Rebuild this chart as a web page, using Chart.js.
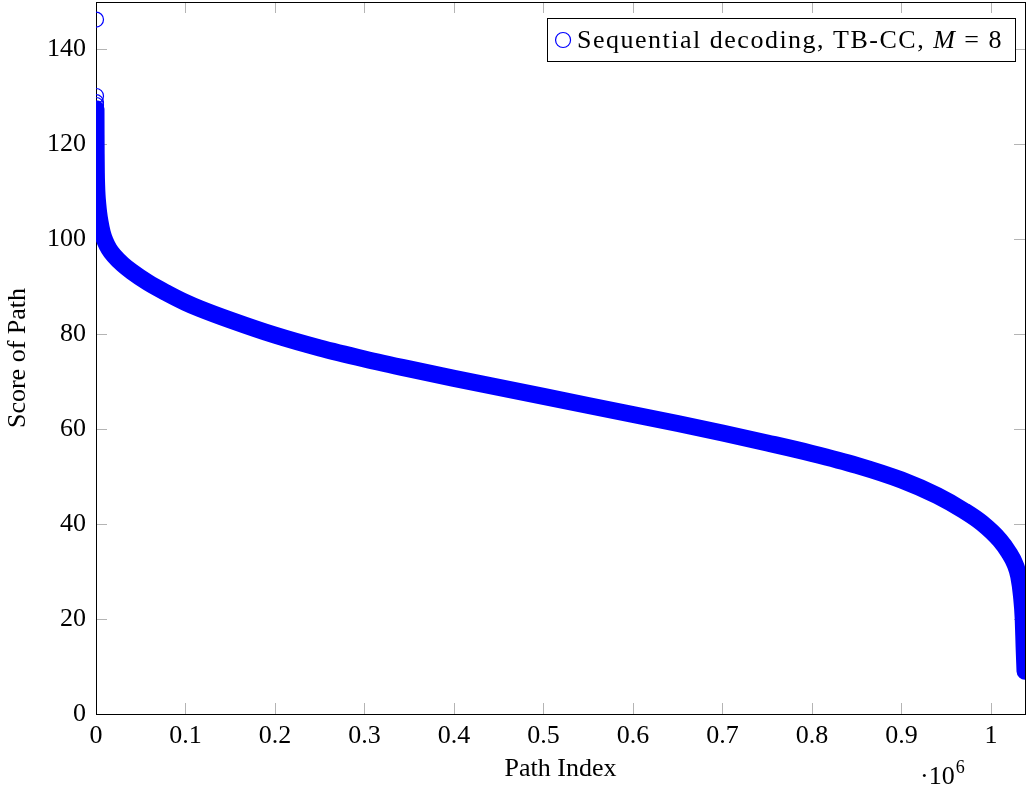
<!DOCTYPE html>
<html>
<head>
<meta charset="utf-8">
<script src="https://cdn.jsdelivr.net/npm/chart.js@4.4.1/dist/chart.umd.min.js"></script>
<style>
  html, body { margin: 0; padding: 0; background: #fff; }
  #wrap { width: 1026px; height: 790px; }
</style>
</head>
<body>
<div id="wrap"><canvas id="chart" width="1026" height="790"></canvas></div>
<script>
const FONT = '"Liberation Serif", "DejaVu Serif", serif';
const BLUE = 'rgb(0,0,255)';
const X_MAX = 1.038e6;
const Y_MAX = 150;

// the few best paths stand out above the band
const topIndex = [0, 0, 0, 0];
const topScore = [146.3, 130.2, 128.9, 128.3];

// sorted path scores
const pathIndex = [
    0, 100, 200, 400, 700, 1200, 2000, 3000, 4500, 7000,
    10000, 14500, 20000, 30000, 40000, 58000, 80000, 100000, 116000, 150000,
    200000, 250000, 300000, 350000, 400000, 450000, 500000, 550000, 600000, 650000,
    700000, 750000, 800000, 850000, 900000, 940000, 970000, 990000, 1010000, 1020000,
    1027000, 1031000, 1034000, 1036000, 1037000, 1038000
];
const pathScore = [
    127.5, 122, 118, 114, 111.5, 109.3, 107.4, 105.6, 103.7, 101.4,
    99.7, 98, 96.6, 94.7, 93.2, 90.9, 88.6, 86.7, 85.4, 83,
    79.8, 77.1, 74.8, 72.7, 70.7, 68.8, 66.9, 65, 63.1, 61.2,
    59.2, 57.1, 54.9, 52.4, 49.3, 46, 42.8, 40.2, 36.6, 34,
    31.5, 29, 25, 20, 14, 9
];

const xTicks      = [0, 1e5, 2e5, 3e5, 4e5, 5e5, 6e5, 7e5, 8e5, 9e5, 1e6];
const xTickLabels = ['0', '0.1', '0.2', '0.3', '0.4', '0.5', '0.6', '0.7', '0.8', '0.9', '1'];
const yTicks      = [0, 20, 40, 60, 80, 100, 120, 140];

const toPoints = (xs, ys) => xs.map((x, i) => ({x: x, y: ys[i]}));

// pgfplots-like frame: black box, short grey ticks pointing inwards on all sides
const frame = {
    id: 'frame',
    beforeDatasetsDraw(chart) {
        const {ctx, chartArea: a, scales: {x, y}} = chart;
        ctx.save();
        ctx.strokeStyle = '#b4b4b4';
        ctx.lineWidth = 1;
        ctx.beginPath();
        xTicks.forEach(v => {
            const px = Math.round(x.getPixelForValue(v)) + 0.5;
            ctx.moveTo(px, a.bottom); ctx.lineTo(px, a.bottom - 11);
            ctx.moveTo(px, a.top);    ctx.lineTo(px, a.top + 11);
        });
        yTicks.forEach(v => {
            const py = Math.round(y.getPixelForValue(v)) + 0.5;
            ctx.moveTo(a.left, py);  ctx.lineTo(a.left + 11, py);
            ctx.moveTo(a.right, py); ctx.lineTo(a.right - 11, py);
        });
        ctx.stroke();
        ctx.strokeStyle = '#000';
        ctx.strokeRect(a.left + 0.5, a.top + 0.5, a.right - a.left, a.bottom - a.top);
        ctx.restore();
    }
};

// boxed legend with italic M, plus the x10^6 factor under the x axis
const notes = {
    id: 'notes',
    afterDraw(chart) {
        const {ctx, chartArea: a} = chart;
        const pre  = 'Sequential decoding, TB-CC, ';
        const post = ' = 8';
        ctx.save();
        ctx.letterSpacing = '1.5px';
        ctx.font = `26px ${FONT}`;
        const wPre  = ctx.measureText(pre).width;
        const wPost = ctx.measureText(post).width;
        ctx.font = `italic 26px ${FONT}`;
        const wM = ctx.measureText('M').width;

        const w = 30 + wPre + wM + wPost + 12;
        const h = 43;
        const right = a.right - 10, top = a.top + 16;
        const left = right - w;
        ctx.fillStyle = '#fff';
        ctx.fillRect(left, top, w, h);
        ctx.strokeStyle = '#000';
        ctx.lineWidth = 1;
        ctx.strokeRect(Math.round(left) + 0.5, top + 0.5, Math.round(w), h);

        ctx.beginPath();
        ctx.arc(left + 16, top + 22, 7.5, 0, 2 * Math.PI);
        ctx.strokeStyle = BLUE;
        ctx.lineWidth = 1.2;
        ctx.stroke();

        ctx.fillStyle = '#000';
        ctx.textBaseline = 'alphabetic';
        let tx = left + 30;
        const base = top + 30;
        ctx.font = `26px ${FONT}`;
        ctx.fillText(pre, tx, base);
        tx += wPre;
        ctx.font = `italic 26px ${FONT}`;
        ctx.fillText('M', tx, base);
        tx += wM;
        ctx.font = `26px ${FONT}`;
        ctx.fillText(post, tx, base);

        // axis multiplier
        ctx.letterSpacing = '0px';
        const mx = a.right - 105, my = a.bottom + 70;
        ctx.fillText('\u00b710', mx, my);
        const w10 = ctx.measureText('\u00b710').width;
        ctx.font = `18px ${FONT}`;
        ctx.fillText('6', mx + w10 + 1, my - 11);
        ctx.restore();
    }
};

const tickFont  = {family: FONT, size: 26};
const titleFont = {family: FONT, size: 26};

new Chart(document.getElementById('chart'), {
    type: 'scatter',
    data: {
        datasets: [
            {
                label: 'Sequential decoding, TB-CC, M = 8',
                data: toPoints(topIndex, topScore),
                showLine: false,
                pointRadius: 7.5,
                pointBorderWidth: 1.2,
                pointBorderColor: BLUE,
                pointBackgroundColor: 'rgba(0,0,0,0)'
            },
            {
                label: 'band',
                data: toPoints(pathIndex, pathScore),
                showLine: true,
                borderColor: BLUE,
                borderWidth: 17,
                borderCapStyle: 'round',
                borderJoinStyle: 'round',
                cubicInterpolationMode: 'monotone',
                pointRadius: 0,
                pointHoverRadius: 0
            }
        ]
    },
    options: {
        responsive: false,
        animation: false,
        devicePixelRatio: 1,
        layout: {autoPadding: false, padding: {top: 2, right: 1, left: 0, bottom: 0}},
        plugins: {
            legend: {display: false},
            tooltip: {enabled: false}
        },
        scales: {
            x: {
                type: 'linear',
                min: 0,
                max: X_MAX,
                grid: {display: false, drawTicks: false},
                border: {display: false},
                afterBuildTicks: s => { s.ticks = xTicks.map(v => ({value: v})); },
                afterFit: s => { s.height = 76; s.paddingLeft = 0; s.paddingRight = 0; },
                ticks: {
                    padding: 7,
                    color: '#000',
                    font: tickFont,
                    maxRotation: 0,
                    autoSkip: false,
                    callback: v => xTickLabels[xTicks.indexOf(v)]
                },
                title: {display: true, text: 'Path Index', color: '#000', font: titleFont, padding: {top: 0, bottom: 5}}
            },
            y: {
                type: 'linear',
                min: 0,
                max: Y_MAX,
                grid: {display: false, drawTicks: false},
                border: {display: false},
                afterBuildTicks: s => { s.ticks = yTicks.map(v => ({value: v})); },
                afterFit: s => { s.width = 96; s.paddingTop = 0; s.paddingBottom = 0; },
                ticks: {padding: 10, color: '#000', font: tickFont, autoSkip: false},
                title: {display: true, text: 'Score of Path', color: '#000', font: titleFont, padding: {top: 3, bottom: 0}}
            }
        }
    },
    plugins: [frame, notes]
});
</script>
</body>
</html>
